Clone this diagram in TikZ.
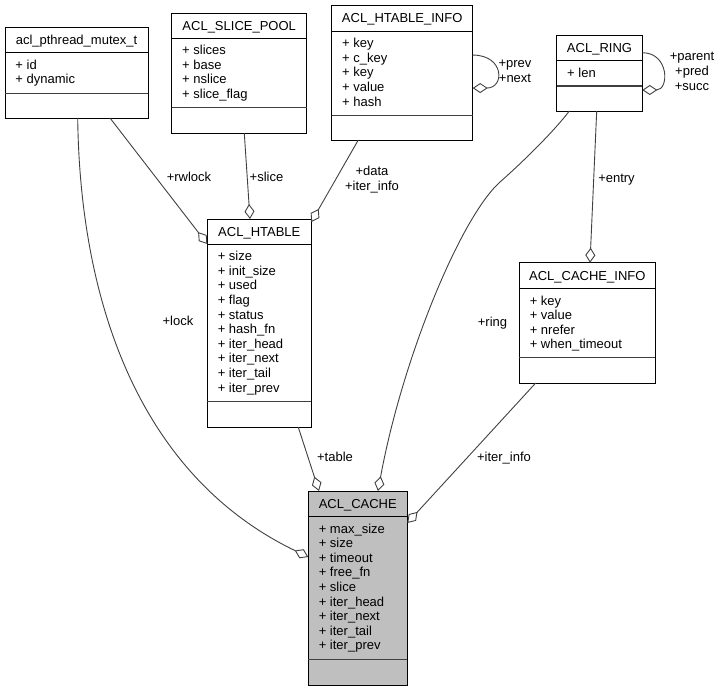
\documentclass[tikz,border=0pt]{standalone}
\usepackage{fontspec}
\setmainfont{Liberation Sans}
\usetikzlibrary{arrows.meta}
\definecolor{edgecol}{RGB}{64,64,64}
\definecolor{cachefill}{RGB}{191,191,191}
\newcommand{\umem}[1]{\strut+ #1}
\newcommand{\umlclass}[9]{%
  \node[classbox, fill=#1, minimum width={(#5-#3)*1pt}, minimum height={(#6-#4)*1pt}] (#2) at ({(#3+#5)/2},{(#4+#6)/2}) {};
  \draw[divone] (#3,#7) -- (#5,#7);
  \draw[divtwo] (#3,#8) -- (#5,#8);
  \node[titletext] (#2-title) at ({(#3+#5)/2},{(#4+#7)/2+4.6}) {#9};
}
\newcommand{\umlmembers}[4]{%
  \node[membertext] (#1-members) at ({#2+10.5},{#3+6.2}) {#4};
}
\begin{document}
\begin{tikzpicture}[x=1pt,y=-1pt,
  txt/.style={font={\fontsize{13}{14.6}\selectfont}, inner sep=0pt, outer sep=0pt},
  classbox/.style={draw=black, line width=1pt, rectangle, inner sep=0pt, outer sep=0pt},
  divone/.style={draw=black, line width=0.9pt},
  divtwo/.style={draw=edgecol, line width=1.4pt},
  titletext/.style={txt, anchor=base},
  membertext/.style={txt, anchor=north west, align=left},
  lbl/.style={txt, anchor=center, align=center},
  assoc/.style={draw=edgecol, line width=0.9pt, -{Diamond[open, length=15pt, width=10pt, line width=0.9pt]}}
]
\useasboundingbox (0,0) rectangle (721,691);

% classes
\umlclass{white}{mutex}{5}{27.7}{148}{118}{52.7}{93.3}{acl\_pthread\_mutex\_t}
\umlmembers{mutex}{5}{52.7}{\umem{id}\\\umem{dynamic}}

\umlclass{white}{pool}{171.7}{13.3}{306.7}{133.3}{38.3}{107.7}{ACL\_SLICE\_POOL}
\umlmembers{pool}{171.7}{38.3}{\umem{slices}\\\umem{base}\\\umem{nslice}\\\umem{slice\_flag}}

\umlclass{white}{info}{331.7}{5.3}{472.7}{140}{31.3}{115.7}{ACL\_HTABLE\_INFO}
\umlmembers{info}{331.7}{31.3}{\umem{key}\\\umem{c\_key}\\\umem{key}\\\umem{value}\\\umem{hash}}

\umlclass{white}{ring}{556.7}{35}{642.3}{111}{60.7}{86}{ACL\_RING}
\umlmembers{ring}{556.7}{60.7}{\umem{len}}

\umlclass{white}{htable}{207.3}{219}{311.3}{427.3}{244.3}{401.7}{ACL\_HTABLE}
\umlmembers{htable}{207.3}{244.3}{\umem{size}\\\umem{init\_size}\\\umem{used}\\\umem{flag}\\\umem{status}\\\umem{hash\_fn}\\\umem{iter\_head}\\\umem{iter\_next}\\\umem{iter\_tail}\\\umem{iter\_prev}}

\umlclass{white}{cacheinfo}{519.3}{262.7}{655.3}{383}{288.7}{357.7}{ACL\_CACHE\_INFO}
\umlmembers{cacheinfo}{519.3}{288.7}{\umem{key}\\\umem{value}\\\umem{nrefer}\\\umem{when\_timeout}}

\umlclass{cachefill}{cache}{308.3}{491}{407.3}{685}{516.7}{659.3}{ACL\_CACHE}
\umlmembers{cache}{308.3}{516.7}{\umem{max\_size}\\\umem{size}\\\umem{timeout}\\\umem{free\_fn}\\\umem{slice}\\\umem{iter\_head}\\\umem{iter\_next}\\\umem{iter\_tail}\\\umem{iter\_prev}}

% connectors
\draw[assoc] ([xshift=33.5pt]mutex.south) -- ([yshift=-25pt]htable.north west);
\draw[assoc] ([xshift=5.1pt]pool.south) -- ([xshift=-9.3pt]htable.north);
\draw[assoc] ([xshift=-43.9pt]info.south) -- ([yshift=-3pt]htable.north east);
\draw[assoc] ([yshift=17.6pt]info.east) .. controls +(32,0) and +(32,0) .. ([yshift=-15.4pt]info.east);
\draw[assoc] ([yshift=20.3pt]ring.east) .. controls +(27,0) and +(27,0) .. ([yshift=-17pt]ring.east);
\draw[assoc] ([xshift=-2.8pt]ring.south) -- ([xshift=2.7pt]cacheinfo.north);
\coordinate (ringbend) at (500,182);
\draw[assoc] ([xshift=-30.2pt]ring.south) .. controls (555,130) and (525,160) .. (ringbend) .. controls (460,218) and (402,360) .. ([xshift=20.2pt]cache.north);
\draw[assoc] ([xshift=-51.6pt]cacheinfo.south) -- ([yshift=-32pt]cache.north east);
\draw[assoc] ([xshift=39pt]htable.south) -- ([xshift=-38.8pt]cache.north);
\draw[assoc] ([xshift=1.2pt]mutex.south) .. controls (80,300) and (138,475) .. ([yshift=-66pt]cache.north west);

% labels
\node[lbl] (l-rwlock) at (189,178.5) {\strut+rwlock};
\node[lbl] (l-slice) at (266.5,178.5) {\strut+slice};
\node[lbl] (l-data) at (372,180) {\strut+data\\\strut+iter\_info};
\node[lbl] (l-prevnext) at (515,72) {\strut+prev\\\strut+next};
\node[lbl] (l-ring3) at (692,72.5) {\strut+parent\\\strut+pred\\\strut+succ};
\node[lbl] (l-entry) at (616.5,179.5) {\strut+entry};
\node[lbl] (l-ring) at (492.5,323.5) {\strut+ring};
\node[lbl] (l-lock) at (178,323) {\strut+lock};
\node[lbl] (l-table) at (335,458.5) {\strut+table};
\node[lbl] (l-iterinfo) at (504,458.5) {\strut+iter\_info};
\end{tikzpicture}
\end{document}
